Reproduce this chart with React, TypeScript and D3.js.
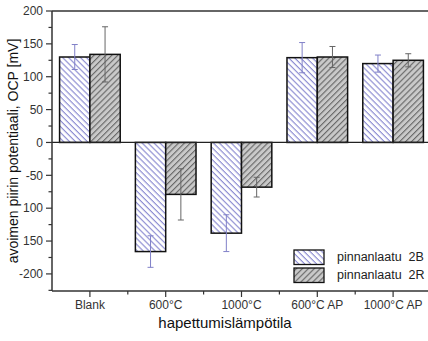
import { useEffect, useRef } from "react";
import * as d3 from "d3";

const categories = ["Blank", "600°C", "1000°C", "600°C AP", "1000°C AP"];
const series = ["pinnanlaatu  2B", "pinnanlaatu  2R"];
const values2B = [130, -166, -138, 129, 120];
const errors2B = [19, 24, 28, 23, 13];
const values2R = [134, -79, -68, 130, 125];
const errors2R = [42, 39, 15, 16, 10];
const yTickValues = [200, 150, 100, 50, 0, -50, -100, -150, -200];
const yTickLabels = ["200", "150", "100", "50", "0", "-50", "100", "150", "-200"];

const W = 428;
const H = 341;

const App = () => {
    const svgRef = useRef<SVGSVGElement | null>(null);

    useEffect(() => {
        if (!svgRef.current) return;
        const svg = d3.select(svgRef.current);
        svg.selectAll("*").remove();

        const left = 52, right = 431, top = 11, bottom = 291;
        const font = "'Liberation Sans', Arial, sans-serif";

        const y = d3.scaleLinear().domain([-226, 200]).range([bottom, top]);
        const x = d3.scaleBand().domain(categories).range([left, right]).paddingInner(0.2).paddingOuter(0.1);
        const xs = d3.scaleBand().domain(["2B", "2R"]).range([0, x.bandwidth()]);

        // hatch patterns: 2B "\" lines on white, 2R "/" lines on grey
        const defs = svg.append("defs");
        const pB = defs.append("pattern").attr("id", "hatchB").attr("patternUnits", "userSpaceOnUse")
            .attr("width", 4.2).attr("height", 4.2).attr("patternTransform", "rotate(45)");
        pB.append("rect").attr("width", 4.2).attr("height", 4.2).attr("fill", "#fff");
        pB.append("line").attr("x1", 0).attr("y1", 0.6).attr("x2", 4.2).attr("y2", 0.6)
            .attr("stroke", "#8585cf").attr("stroke-width", 1.1);
        const pR = defs.append("pattern").attr("id", "hatchR").attr("patternUnits", "userSpaceOnUse")
            .attr("width", 4.2).attr("height", 4.2).attr("patternTransform", "rotate(-45)");
        pR.append("rect").attr("width", 4.2).attr("height", 4.2).attr("fill", "#c9c9c9");
        pR.append("line").attr("x1", 0).attr("y1", 0.6).attr("x2", 4.2).attr("y2", 0.6)
            .attr("stroke", "#5a5a5a").attr("stroke-width", 1);

        svg.append("rect").attr("width", W).attr("height", H).attr("fill", "#fff");

        const rows = categories.map((c, i) => [
            { cat: c, key: "2B", v: values2B[i], e: errors2B[i] },
            { cat: c, key: "2R", v: values2R[i], e: errors2R[i] },
        ]).flat();

        const barX = (d: any) => (x(d.cat) as number) + (xs(d.key) as number);

        // bars
        svg.append("g").selectAll("rect").data(rows).enter().append("rect")
            .attr("x", barX)
            .attr("y", (d) => y(Math.max(0, d.v)))
            .attr("width", xs.bandwidth())
            .attr("height", (d) => Math.abs(y(d.v) - y(0)))
            .attr("fill", (d) => d.key === "2B" ? "url(#hatchB)" : "url(#hatchR)")
            .attr("stroke", "#111")
            .attr("stroke-width", 1.5);

        // error bars
        const eb = svg.append("g").selectAll("g").data(rows).enter().append("g")
            .attr("stroke", (d) => d.key === "2B" ? "#8080c8" : "#666")
            .attr("stroke-width", 1);
        const cx = (d: any) => barX(d) + xs.bandwidth() / 2;
        eb.append("line").attr("x1", cx).attr("x2", cx)
            .attr("y1", (d) => y(d.v + d.e)).attr("y2", (d) => y(d.v - d.e));
        eb.append("line").attr("x1", (d) => cx(d) - 3).attr("x2", (d) => cx(d) + 3)
            .attr("y1", (d) => y(d.v + d.e)).attr("y2", (d) => y(d.v + d.e));
        eb.append("line").attr("x1", (d) => cx(d) - 3).attr("x2", (d) => cx(d) + 3)
            .attr("y1", (d) => y(d.v - d.e)).attr("y2", (d) => y(d.v - d.e));

        // zero line
        svg.append("line").attr("x1", left).attr("x2", right).attr("y1", y(0)).attr("y2", y(0))
            .attr("stroke", "#222").attr("stroke-width", 1.2);

        // frame
        svg.append("line").attr("x1", left).attr("x2", right).attr("y1", top).attr("y2", top)
            .attr("stroke", "#333").attr("stroke-width", 1.5);
        svg.append("line").attr("x1", left).attr("x2", right).attr("y1", bottom).attr("y2", bottom)
            .attr("stroke", "#333").attr("stroke-width", 1.5);
        svg.append("line").attr("x1", left).attr("x2", left).attr("y1", top).attr("y2", bottom)
            .attr("stroke", "#333").attr("stroke-width", 1.5);

        // y ticks
        const yAxis = svg.append("g");
        d3.range(-225, 201, 25).forEach((t) => {
            const major = t % 50 === 0;
            yAxis.append("line").attr("x1", left - (major ? 6 : 3.5)).attr("x2", left)
                .attr("y1", y(t)).attr("y2", y(t)).attr("stroke", "#333").attr("stroke-width", 1.2);
        });
        yAxis.selectAll("text").data(yTickValues).enter().append("text")
            .attr("x", left - 9).attr("y", (d) => y(d)).attr("dy", "0.35em")
            .attr("text-anchor", "end").attr("font-family", font).attr("font-size", 12).attr("fill", "#333")
            .text((_, i) => yTickLabels[i]);

        // x ticks
        const xAxis = svg.append("g");
        categories.forEach((c) => {
            const c0 = (x(c) as number) + x.bandwidth() / 2;
            xAxis.append("line").attr("x1", c0).attr("x2", c0).attr("y1", bottom).attr("y2", bottom + 6)
                .attr("stroke", "#333").attr("stroke-width", 1.2);
            const mid = c0 + x.step() / 2;
            xAxis.append("line").attr("x1", mid).attr("x2", mid).attr("y1", bottom).attr("y2", bottom + 3.5)
                .attr("stroke", "#333").attr("stroke-width", 1.2);
            xAxis.append("text").attr("x", c0).attr("y", bottom + 18).attr("text-anchor", "middle")
                .attr("font-family", font).attr("font-size", 12).attr("fill", "#333").text(c);
        });

        // axis titles
        svg.append("text").attr("x", 225).attr("y", 328).attr("text-anchor", "middle")
            .attr("font-family", font).attr("font-size", 15).attr("fill", "#111").text("hapettumislämpötila");
        svg.append("text").attr("transform", `translate(18,151) rotate(-90)`).attr("text-anchor", "middle")
            .attr("font-family", font).attr("font-size", 14).attr("fill", "#111")
            .text("avoimen piirin potentiaali, OCP [mV]");

        // legend
        const lg = svg.append("g");
        series.forEach((s, i) => {
            const ly = 250 + i * 18;
            lg.append("rect").attr("x", 294).attr("y", ly).attr("width", 30).attr("height", 14.5)
                .attr("fill", i === 0 ? "url(#hatchB)" : "url(#hatchR)").attr("stroke", "#111").attr("stroke-width", 1.3);
            lg.append("text").attr("x", 337).attr("y", ly + 7).attr("dy", "0.35em")
                .attr("font-family", font).attr("font-size", 12.5).attr("fill", "#222")
                .style("white-space", "pre").text(s);
        });
    }, []);

    return (
        <svg ref={svgRef} width={W} height={H} style={{ display: "block", position: "absolute", left: 0, top: 0 }} />
    );
};

export default App;
